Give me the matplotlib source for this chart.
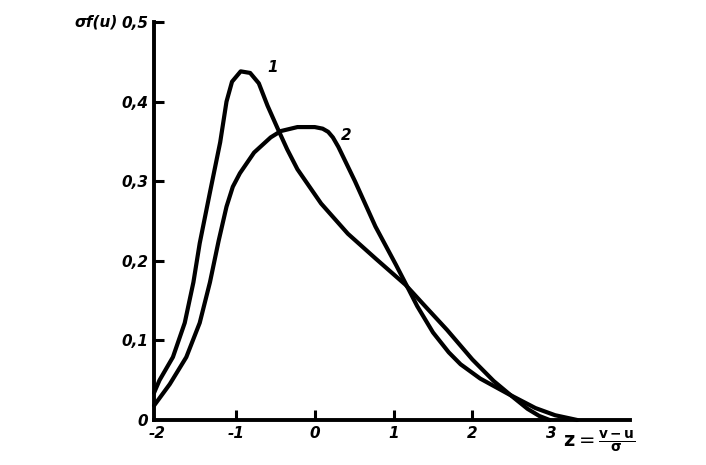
import matplotlib
matplotlib.use("Agg")
import matplotlib.pyplot as plt

# Curve 1
z1 = [-2.04, -1.97, -1.80, -1.65, -1.54, -1.46, -1.33, -1.2, -1.12, -1.05, -0.94,
      -0.82, -0.71, -0.6, -0.47, -0.35, -0.22, 0.08, 0.42, 0.77, 1.15, 1.4, 1.68,
      2.0, 2.27, 2.5, 2.7, 2.85, 2.98]
v1 = [0.034, 0.05, 0.079, 0.122, 0.173, 0.222, 0.286, 0.349, 0.40, 0.425, 0.438,
      0.436, 0.423, 0.395, 0.366, 0.34, 0.315, 0.272, 0.234, 0.203, 0.17, 0.143, 0.113,
      0.076, 0.049, 0.03, 0.014, 0.005, 0.0]

# Curve 2
z2 = [-2.04, -1.84, -1.63, -1.46, -1.33, -1.22, -1.12, -1.04, -0.95, -0.77, -0.56,
      -0.43, -0.22, 0.0, 0.1, 0.17, 0.23, 0.3, 0.51, 0.77, 1.03, 1.15, 1.3, 1.5, 1.7,
      1.85, 2.1, 2.45, 2.8, 3.05, 3.33]
v2 = [0.018, 0.045, 0.079, 0.122, 0.173, 0.225, 0.268, 0.293, 0.31, 0.336, 0.355,
      0.363, 0.368, 0.368, 0.366, 0.362, 0.355, 0.343, 0.3, 0.243, 0.195, 0.172, 0.143,
      0.11, 0.085, 0.07, 0.052, 0.033, 0.015, 0.006, 0.0]

xticks = [-2, -1, 0, 1, 2, 3]
xtick_labels = ["-2", "-1", "0", "1", "2", "3"]
yticks = [0, 0.1, 0.2, 0.3, 0.4, 0.5]
ytick_labels = ["0", "0,1", "0,2", "0,3", "0,4", "0,5"]

W, H = 706, 465
fig = plt.figure(figsize=(W / 100, H / 100), dpi=100)
fig.patch.set_facecolor("white")
ax = fig.add_axes([154 / W, 45 / H, (630 - 154) / W, (420 - 22) / H])

lw = 3.0
for z, v in ((z1, v1), (z2, v2)):
    ax.plot(z, v, color="black", lw=lw, solid_joinstyle="round",
            solid_capstyle="round", clip_on=False)

ax.set_xlim(-2.04, 4.0)
ax.set_ylim(0, 0.5)

for s in ["top", "right"]:
    ax.spines[s].set_visible(False)
for s in ["left", "bottom"]:
    ax.spines[s].set_linewidth(2.8)

fkw = dict(fontsize=11, fontweight="bold", fontstyle="italic", family="DejaVu Sans")
ax.set_xticks(xticks)
ax.set_xticklabels(xtick_labels, **fkw)
ax.set_yticks(yticks)
ax.set_yticklabels(ytick_labels, **fkw)
ax.tick_params(axis="both", direction="in", length=7, width=2.2, pad=4)
ax.xaxis.get_major_ticks()[0].tick1line.set_visible(False)
ax.xaxis.get_major_ticks()[-1].tick1line.set_visible(False)
ax.yaxis.get_major_ticks()[0].tick1line.set_visible(False)

ax.text(-0.53, 0.443, "1", ha="center", va="center", **fkw)
ax.text(0.40, 0.358, "2", ha="center", va="center", **fkw)

fig.text(118 / W, 1 - 22 / H, "σf(u)", ha="right", va="center", **fkw)
fig.text(563 / W, 1 - 442 / H, r"$\mathbf{z}=\frac{\mathbf{v-u}}{\mathbf{\sigma}}$",
         ha="left", va="center", fontsize=14)

fig.savefig("out.png", dpi=100)
